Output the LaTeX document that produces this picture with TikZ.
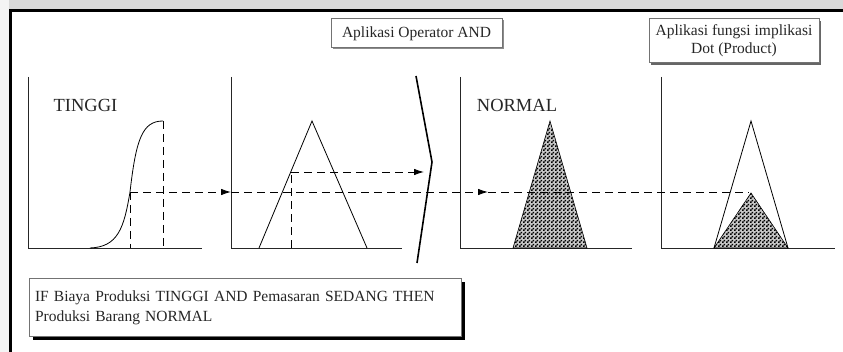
\documentclass[tikz,border=0pt]{standalone}
\usepackage{fontspec}
\setmainfont{Liberation Serif}
\usetikzlibrary{arrows.meta,patterns}
\pgfdeclarepatternformonly{finechecker}{\pgfpointorigin}{\pgfqpoint{3.5pt}{3.5pt}}{\pgfqpoint{3.5pt}{3.5pt}}{%
  \pgfpathrectangle{\pgfpointorigin}{\pgfqpoint{1.85pt}{1.85pt}}%
  \pgfpathrectangle{\pgfqpoint{1.75pt}{1.75pt}}{\pgfqpoint{1.85pt}{1.85pt}}%
  \pgfusepath{fill}}
\begin{document}
\begin{tikzpicture}[x=1pt,y=-1pt,
  axis/.style={line width=0.9pt,black!85},
  curve/.style={line width=0.8pt,black},
  dline/.style={line width=0.9pt,black,dash pattern=on 8pt off 5pt},
  arr/.style={-{Latex[length=10pt,width=6.5pt]}},
  checker/.style={fill=black!22,postaction={pattern=finechecker,pattern color=black},draw=black,line width=0.6pt},
  lbl/.style={font=\fontsize{18.5}{20}\selectfont,text=black!85,inner sep=0pt},
  boxtxt/.style={font=\fontsize{15.5}{18}\selectfont,text=black!85},
  framebox/.style={draw=black!55,line width=1pt,fill=white}]
\useasboundingbox (0,0) rectangle (843,352);
% background
\fill[white] (0,0) rectangle (843,352);
\fill[black!15] (0,0) rectangle (843,9);
\fill[white!70!black!15] (0,0) rectangle (9,352);
\draw[line width=3pt,black] (843,10.5) -- (10.5,10.5) -- (10.5,352);

% ---------- panel 1 ----------
\coordinate (a1t) at (28,77); \coordinate (a1o) at (28,248); \coordinate (a1r) at (202,248);
\draw[axis] (a1t) -- (a1o) -- (a1r);
\node[lbl] (tinggi) at (85.5,105) {TINGGI};
\coordinate (s0) at (90,248);
\coordinate (s1) at (130,192);
\coordinate (s2) at (163,121);
\draw[curve] (s0) .. controls (118,247) and (124,228) .. (s1)
  .. controls (136,140) and (142,121) .. (s2);
\coordinate (s1b) at (130,248);
\coordinate (s2b) at (163,248);
\draw[dline] (s1) -- (s1b);
\draw[dline] (s2) -- (s2b);

% ---------- panel 2 ----------
\coordinate (a2t) at (231,77); \coordinate (a2o) at (231,248); \coordinate (a2r) at (402,248);
\draw[axis] (a2t) -- (a2o) -- (a2r);
\coordinate (t2l) at (259,248); \coordinate (t2p) at (312,121); \coordinate (t2r) at (367,248);
\draw[curve] (t2l) -- (t2p) -- (t2r);
\coordinate (m2b) at (291,248); \coordinate (m2) at (291,172);
\coordinate (m2e) at (424,172);
\draw[dline] (m2b) -- (m2);
\draw[dline,arr] (m2) -- (m2e);
\coordinate (a2m) at (231,192);
\draw[dline,arr] (s1) -- (a2m);

% chevron
\coordinate (c0) at (416,76); \coordinate (c1) at (432,162); \coordinate (c2) at (417,263);
\draw[line width=1.6pt,black] (c0) -- (c1) -- (c2);

% ---------- panel 3 ----------
\coordinate (a3t) at (460,77); \coordinate (a3o) at (460,248); \coordinate (a3r) at (632,248);
\draw[axis] (a3t) -- (a3o) -- (a3r);
\node[lbl] (normal) at (517,105) {NORMAL};
\coordinate (t3l) at (513,248); \coordinate (t3p) at (550,121); \coordinate (t3r) at (587,248);
\draw[checker] (t3l) -- (t3p) -- (t3r) -- cycle;
\coordinate (ar3) at (488,192);

% ---------- panel 4 ----------
\coordinate (a4t) at (661,77); \coordinate (a4o) at (661,248); \coordinate (a4r) at (835,248);
\draw[axis] (a4t) -- (a4o) -- (a4r);
\coordinate (t4l) at (714,248); \coordinate (t4p) at (751,121); \coordinate (t4r) at (788,248);
\coordinate (t4q) at (751,193);
\draw[checker] (t4l) -- (t4q) -- (t4r) -- cycle;
\draw[curve] (t4l) -- (t4p) -- (t4r);
\coordinate (d4) at (749,192);

% long dashed line
\draw[dline,arr] (a2m) -- (ar3);
\draw[dline] (ar3) -- (d4);

% ---------- boxes ----------
\fill[black!45] (332.5,20.5) rectangle (503.5,49.5);
\node[framebox,boxtxt,minimum width=171pt,minimum height=29pt,inner sep=0pt] (opbox) at (416.5,33.5) {Aplikasi Operator AND};

\fill[black!60] (651,21) rectangle (820.5,65);
\node[framebox,boxtxt,minimum width=170pt,minimum height=44pt,inner sep=0pt,align=center] (dotbox) at (734,41) {Aplikasi fungsi implikasi\\Dot (Product)};

\fill[black] (33,282) rectangle (465,340);
\node[framebox,boxtxt,minimum width=432pt,minimum height=58pt,inner sep=5pt,align=left,anchor=north west,text width=421pt] (rule) at (29,278) {IF Biaya Produksi TINGGI AND Pemasaran SEDANG THEN\\[2pt]Produksi Barang NORMAL};
\end{tikzpicture}
\end{document}
